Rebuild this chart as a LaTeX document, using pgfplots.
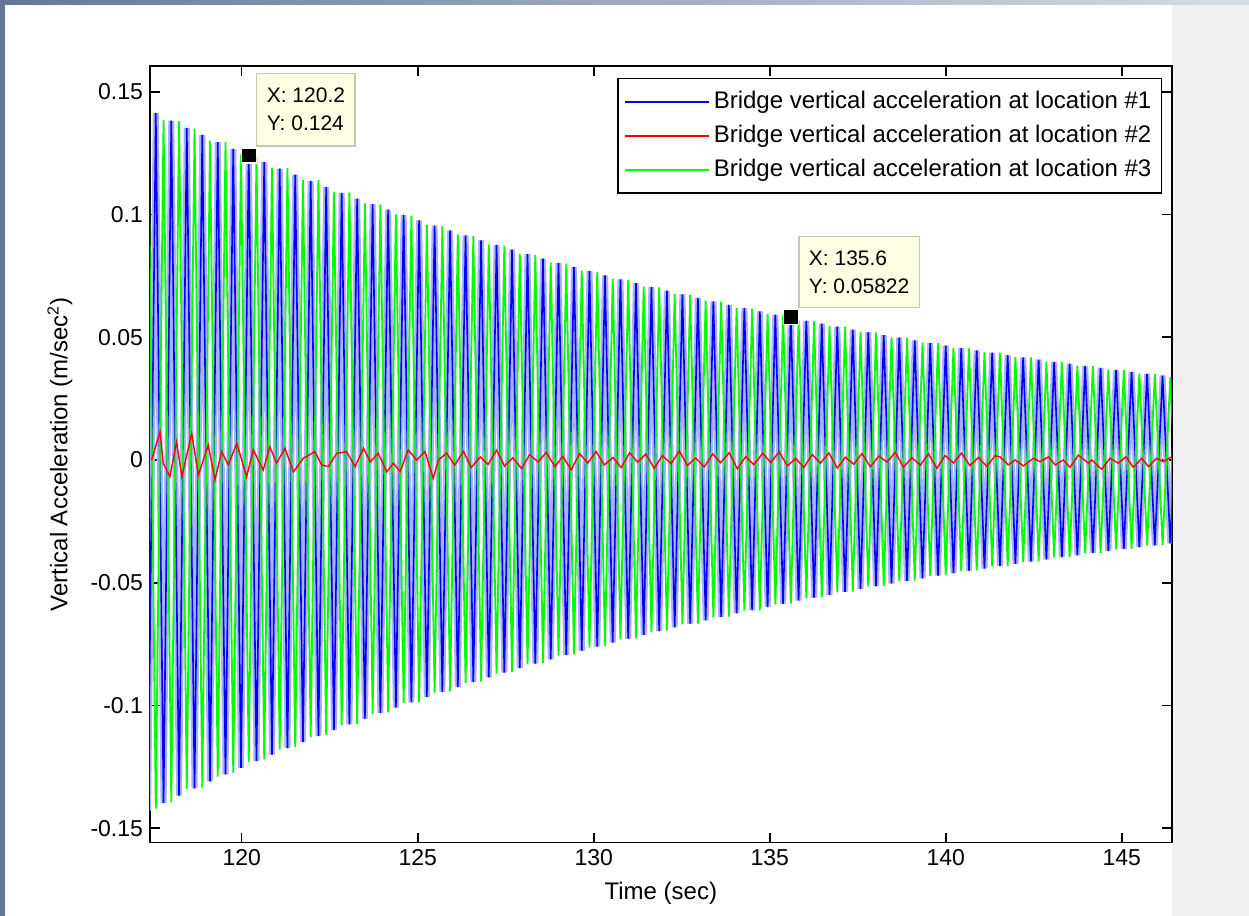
\documentclass[border=0pt]{standalone}
\usepackage{fontspec}
\setmainfont{Liberation Sans}
\usepackage{pgfplots}
\usepackage{pgfplotstable}
\pgfplotsset{compat=1.18}

\definecolor{mblue}{rgb}{0,0,1}
\definecolor{mred}{rgb}{1,0,0}
\definecolor{mgreen}{rgb}{0,1,0}
\definecolor{halo}{RGB}{170,177,250}
\definecolor{tipfill}{RGB}{255,255,228}
\definecolor{tipdraw}{RGB}{200,200,185}
\definecolor{frameL}{RGB}{100,120,150}
\definecolor{frameR}{RGB}{215,220,228}
\definecolor{slidebg}{RGB}{240,240,242}

\pgfplotstableread{
t y
117.34 -0.1428
117.56 0.1413
117.78 -0.1398
118.00 0.1382
118.22 -0.1367
118.44 0.1353
118.66 -0.1338
118.88 0.1324
119.10 -0.1309
119.32 0.1295
119.54 -0.1281
119.76 0.1267
119.98 -0.1254
120.20 0.1240
120.42 -0.1227
120.64 0.1213
120.86 -0.1200
121.08 0.1187
121.30 -0.1174
121.52 0.1162
121.74 -0.1149
121.96 0.1137
122.18 -0.1125
122.40 0.1112
122.62 -0.1100
122.84 0.1088
123.06 -0.1077
123.28 0.1065
123.50 -0.1054
123.72 0.1042
123.94 -0.1031
124.16 0.1020
124.38 -0.1009
124.60 0.0998
124.82 -0.0987
125.04 0.0976
125.26 -0.0966
125.48 0.0955
125.70 -0.0945
125.92 0.0935
126.14 -0.0925
126.36 0.0915
126.58 -0.0905
126.80 0.0895
127.02 -0.0885
127.24 0.0876
127.46 -0.0866
127.68 0.0857
127.90 -0.0848
128.12 0.0839
128.34 -0.0829
128.56 0.0820
128.78 -0.0812
129.00 0.0803
129.22 -0.0794
129.44 0.0786
129.66 -0.0777
129.88 0.0769
130.10 -0.0760
130.32 0.0752
130.54 -0.0744
130.76 0.0736
130.98 -0.0728
131.20 0.0720
131.42 -0.0712
131.64 0.0705
131.86 -0.0697
132.08 0.0690
132.30 -0.0682
132.52 0.0675
132.74 -0.0667
132.96 0.0660
133.18 -0.0653
133.40 0.0646
133.62 -0.0639
133.84 0.0632
134.06 -0.0625
134.28 0.0619
134.50 -0.0612
134.72 0.0605
134.94 -0.0599
135.16 0.0592
135.38 -0.0586
135.60 0.0582
135.82 -0.0573
136.04 0.0567
136.26 -0.0561
136.48 0.0555
136.70 -0.0549
136.92 0.0543
137.14 -0.0537
137.36 0.0531
137.58 -0.0525
137.80 0.0520
138.02 -0.0514
138.24 0.0509
138.46 -0.0503
138.68 0.0498
138.90 -0.0492
139.12 0.0487
139.34 -0.0482
139.56 0.0476
139.78 -0.0471
140.00 0.0466
140.22 -0.0461
140.44 0.0456
140.66 -0.0451
140.88 0.0446
141.10 -0.0442
141.32 0.0437
141.54 -0.0432
141.76 0.0427
141.98 -0.0423
142.20 0.0418
142.42 -0.0414
142.64 0.0409
142.86 -0.0405
143.08 0.0400
143.30 -0.0396
143.52 0.0392
143.74 -0.0388
143.96 0.0383
144.18 -0.0379
144.40 0.0375
144.62 -0.0371
144.84 0.0367
145.06 -0.0363
145.28 0.0359
145.50 -0.0355
145.72 0.0351
145.94 -0.0348
146.16 0.0344
146.38 -0.0340
146.60 0.0337
}\bluedata

\pgfplotstableread{
t y
117.34 0.1440
117.56 -0.1420
117.78 0.1385
118.00 -0.1395
118.22 0.1380
118.44 -0.1340
118.66 0.1350
118.88 -0.1335
119.10 0.1300
119.32 -0.1290
119.54 0.1295
119.76 -0.1275
119.98 0.1245
120.20 -0.1230
120.42 0.1235
120.64 -0.1220
120.86 0.1190
121.08 -0.1180
121.30 0.1190
121.52 -0.1170
121.74 0.1140
121.96 -0.1130
122.18 0.1140
122.40 -0.1120
122.62 0.1090
122.84 -0.1080
123.06 0.1090
123.28 -0.1075
123.50 0.1045
123.72 -0.1035
123.94 0.1040
124.16 -0.1028
124.38 0.1000
124.60 -0.0990
124.82 0.0995
125.04 -0.0985
125.26 0.0958
125.48 -0.0948
125.70 0.0952
125.92 -0.0942
126.14 0.0918
126.36 -0.0908
126.58 0.0912
126.80 -0.0902
127.02 0.0878
127.24 -0.0870
127.46 0.0873
127.68 -0.0864
127.90 0.0841
128.12 -0.0833
128.34 0.0836
128.56 -0.0827
128.78 0.0805
129.00 -0.0797
129.22 0.0800
129.44 -0.0792
129.66 0.0771
129.88 -0.0763
130.10 0.0766
130.32 -0.0758
130.54 0.0738
130.76 -0.0731
130.98 0.0734
131.20 -0.0726
131.42 0.0706
131.64 -0.0700
131.86 0.0703
132.08 -0.0695
132.30 0.0677
132.52 -0.0670
132.74 0.0673
132.96 -0.0666
133.18 0.0648
133.40 -0.0641
133.62 0.0645
133.84 -0.0638
134.06 0.0620
134.28 -0.0614
134.50 0.0617
134.72 -0.0611
134.94 0.0594
135.16 -0.0588
135.38 0.0591
135.60 -0.0585
135.82 0.0568
136.04 -0.0563
136.26 0.0566
136.48 -0.0560
136.70 0.0545
136.92 -0.0539
137.14 0.0542
137.36 -0.0536
137.58 0.0521
137.80 -0.0516
138.02 0.0519
138.24 -0.0513
138.46 0.0499
138.68 -0.0494
138.90 0.0497
139.12 -0.0491
139.34 0.0478
139.56 -0.0473
139.78 0.0476
140.00 -0.0470
140.22 0.0457
140.44 -0.0453
140.66 0.0455
140.88 -0.0450
141.10 0.0438
141.32 -0.0434
141.54 0.0436
141.76 -0.0431
141.98 0.0419
142.20 -0.0415
142.42 0.0418
142.64 -0.0413
142.86 0.0401
143.08 -0.0397
143.30 0.0400
143.52 -0.0395
143.74 0.0384
143.96 -0.0380
144.18 0.0383
144.40 -0.0378
144.62 0.0368
144.84 -0.0364
145.06 0.0366
145.28 -0.0362
145.50 0.0352
145.72 -0.0348
145.94 0.0351
146.16 -0.0347
146.38 0.0337
146.60 -0.0334
}\greendata

\pgfplotstableread{
t y
117.44 0.0000
117.68 0.0115
117.77 -0.0013
117.96 -0.0068
118.15 0.0074
118.30 -0.0068
118.58 0.0108
118.77 -0.0061
119.05 0.0061
119.24 -0.0081
119.43 0.0034
119.62 -0.0020
119.86 0.0068
120.14 -0.0068
120.33 0.0041
120.61 -0.0041
120.80 0.0054
120.99 -0.0013
121.23 0.0048
121.47 -0.0048
121.75 0.0007
122.08 0.0034
122.27 -0.0020
122.46 -0.0027
122.70 0.0027
122.98 0.0034
123.22 -0.0027
123.46 0.0048
123.65 -0.0007
123.88 0.0027
124.12 -0.0048
124.31 -0.0013
124.50 -0.0048
124.73 0.0041
124.97 0.0000
125.21 0.0034
125.44 -0.0075
125.59 0.0000
125.82 0.0028
126.05 -0.0021
126.30 0.0035
126.52 -0.0030
126.78 0.0012
127.00 -0.0018
127.24 0.0040
127.47 -0.0025
127.70 0.0009
127.95 -0.0035
128.18 0.0022
128.42 -0.0008
128.65 0.0031
128.90 -0.0027
129.12 0.0015
129.36 -0.0040
129.60 0.0026
129.83 -0.0012
130.07 0.0034
130.30 -0.0020
130.55 0.0010
130.78 -0.0031
131.02 0.0029
131.25 -0.0009
131.48 0.0024
131.72 -0.0034
131.95 0.0018
132.20 -0.0015
132.43 0.0037
132.66 -0.0022
132.90 0.0008
133.14 -0.0028
133.38 0.0025
133.60 -0.0011
133.85 0.0030
134.08 -0.0036
134.32 0.0014
134.55 -0.0019
134.80 0.0027
135.03 -0.0010
135.27 0.0033
135.50 -0.0024
135.74 0.0006
135.97 -0.0030
136.21 0.0022
136.44 -0.0013
136.68 0.0029
136.92 -0.0033
137.15 0.0011
137.39 -0.0017
137.62 0.0026
137.86 -0.0027
138.10 0.0016
138.33 -0.0008
138.57 0.0031
138.80 -0.0029
139.04 0.0009
139.28 -0.0021
139.51 0.0025
139.75 -0.0034
139.98 0.0018
140.22 -0.0012
140.45 0.0028
140.69 -0.0023
140.93 0.0010
141.17 -0.0026
141.40 0.0017
141.54 0.0013
141.78 -0.0020
141.97 0.0000
142.21 -0.0024
142.49 0.0007
142.68 -0.0007
142.92 0.0013
143.11 -0.0020
143.34 0.0000
143.53 -0.0030
143.77 0.0020
144.05 -0.0013
144.15 0.0000
144.43 -0.0038
144.67 0.0007
144.90 -0.0013
145.12 0.0013
145.33 -0.0030
145.57 0.0007
145.76 -0.0027
145.99 0.0007
146.18 -0.0007
146.42 0.0013
}\reddata

\begin{document}
\begin{tikzpicture}
% slide background
\fill[left color=frameL, right color=frameR] (0,0) rectangle (624.5pt,458pt);
\fill[white] (2.5pt,0) rectangle (586pt,455.5pt);
\fill[slidebg] (586pt,0) rectangle (624.5pt,455.5pt);
\begin{axis}[
  at={(75pt,36.65pt)}, anchor=south west,
  scale only axis, width=510.85pt, height=388.35pt,
  xmin=117.395, xmax=146.42,
  ymin=-0.1559, ymax=0.1605,
  axis background/.style={fill=white},
  axis line style={black, line width=0.8pt},
  every tick/.style={black, line width=0.8pt},
  tick align=inside, major tick length=5pt,
  tick pos=both,
  xticklabel pos=lower, yticklabel pos=left,
  xtick={120,125,130,135,140,145},
  xticklabels={120,125,130,135,140,145},
  ytick={-0.15,-0.1,-0.05,0,0.05,0.1,0.15},
  yticklabels={{-0.15},{-0.1},{-0.05},{0},{0.05},{0.1},{0.15}},
  ticklabel style={font=\fontsize{11.5}{13}\selectfont},
  xlabel={Time (sec)},
  ylabel={Vertical Acceleration (m/sec\textsuperscript{2})},
  label style={font=\fontsize{12}{14}\selectfont},
  xlabel style={at={(axis description cs:0.5,-0.0648)}, anchor=center},
  ylabel style={at={(axis description cs:-0.0881,0.5)}, anchor=center},
  legend style={font=\fontsize{12}{14}\selectfont, draw=black, line width=0.6pt,
    at={(0.9905,0.9846)}, anchor=north east, inner xsep=3pt, inner ysep=4.5pt,
    row sep=2.8pt, fill=white},
  legend cell align=left,
  legend image code/.code={\path (0pt,0pt) -- (42pt,0pt);
    \draw[#1] (3.5pt,0pt) -- (39.5pt,0pt);},
]
\addplot[halo, line width=3pt, forget plot] table[x=t,y=y] {\bluedata};
\addplot[mblue, line width=0.8pt, forget plot] table[x=t,y=y] {\bluedata};
\addplot[mgreen, line width=0.9pt, forget plot] table[x=t,y=y] {\greendata};
\addplot[mred, line width=0.7pt, forget plot] table[x=t,y=y] {\reddata};

\addlegendimage{color=mblue, line width=0.9pt}
\addlegendentry{Bridge vertical acceleration at location \#1}
\addlegendimage{color=mred, line width=0.9pt}
\addlegendentry{Bridge vertical acceleration at location \#2}
\addlegendimage{color=mgreen, line width=0.9pt}
\addlegendentry{Bridge vertical acceleration at location \#3}

\addplot[only marks, mark=square*, mark size=3.75pt,
  mark options={fill=black, draw=tipfill, line width=0.6pt}, forget plot]
  coordinates {(120.2,0.124) (135.6,0.05822)};

\node[anchor=south west, fill=tipfill, draw=tipdraw, line width=0.6pt,
  align=left, font=\fontsize{10.5}{14}\selectfont, inner xsep=5pt, inner ysep=7.5pt,
  xshift=3.75pt, yshift=4.5pt] at (axis cs:120.2,0.124) {X: 120.2\\Y: 0.124};
\node[anchor=south west, fill=tipfill, draw=tipdraw, line width=0.6pt,
  align=left, font=\fontsize{10.5}{14}\selectfont, inner xsep=5pt, inner ysep=7pt,
  xshift=3.75pt, yshift=4.5pt] at (axis cs:135.6,0.05822) {X: 135.6\\Y: 0.05822};
\end{axis}
\pgfresetboundingbox
\path (0,0) rectangle (624.5pt,458pt);
\end{tikzpicture}
\end{document}
